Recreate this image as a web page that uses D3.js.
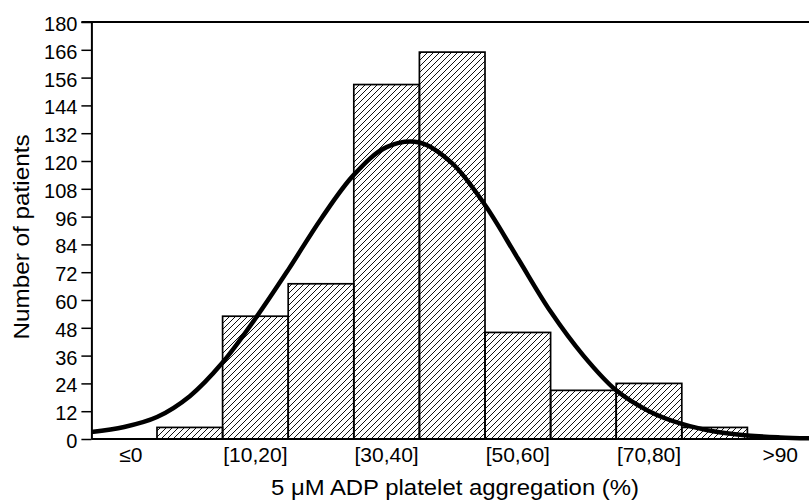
<!DOCTYPE html>
<html>
<head>
<meta charset="utf-8">
<script src="https://cdn.jsdelivr.net/npm/d3@7"></script>
<style>
  html, body { margin: 0; padding: 0; background: #fff; }
  svg { display: block; font-family: "Liberation Sans", Arial, sans-serif; }
</style>
</head>
<body>
<svg id="chart" width="809" height="502"></svg>
<script>
// bins of 10 %, start value of each bar
const binStarts = [0, 10, 20, 30, 40, 50, 60, 70, 80]
const binCounts = [5, 53, 67, 153, 167, 46, 21, 24, 5]

// fitted curve, every 5 %
const curveX = [-10, -5, 0, 5, 10, 15, 20, 25, 30, 35, 40, 45, 50, 55, 60, 65, 70, 75, 80, 85, 90, 95, 100]
const curveY = [3, 5.2, 9.5, 18.5, 33, 52, 73, 95, 114, 126, 128, 119, 101, 78, 55, 36, 21, 12, 6.5, 3.2, 1.5, 0.7, 0.3]

const yTickValues = [0, 12, 24, 36, 48, 60, 72, 84, 96, 108, 120, 132, 144, 156, 168, 180]
const yTickLabels = ['0', '12', '24', '36', '48', '60', '72', '84', '96', '108', '120', '132', '144', '156', '166', '180']

const xLabelCenters = [-4, 15, 35, 55, 75, 95]
const xLabels = ['≤0', '[10,20]', '[30,40]', '[50,60]', '[70,80]', '>90']

const BIN_WIDTH = 10
const W = 809, H = 502

const svg = d3.select('#chart')

const x = d3.scaleLinear().domain([-10, 100]).range([91.4, 813])
const y = d3.scaleLinear().domain([0, 180]).range([439, 22])

// hatch fill
const defs = svg.append('defs')
defs.append('pattern')
  .attr('id', 'hatch')
  .attr('patternUnits', 'userSpaceOnUse')
  .attr('width', 6)
  .attr('height', 6)
  .append('path')
  .attr('d', 'M0,6 L6,0 M-3,3 L3,-3 M3,9 L9,3')
  .attr('stroke', '#111')
  .attr('stroke-width', 1)

// bars
svg.append('g')
  .selectAll('rect')
  .data(binStarts)
  .join('rect')
  .attr('x', d => x(d))
  .attr('width', d => x(d + BIN_WIDTH) - x(d))
  .attr('y', (d, i) => y(binCounts[i]))
  .attr('height', (d, i) => y(0) - y(binCounts[i]))
  .attr('fill', 'url(#hatch)')
  .attr('stroke', '#000')
  .attr('stroke-width', 1.7)

// y axis
const yAxis = svg.append('g')
  .attr('transform', `translate(${x(-10)},0)`)
  .call(d3.axisLeft(y)
    .tickValues(yTickValues)
    .tickFormat((d, i) => yTickLabels[i])
    .tickSize(10)
    .tickSizeOuter(0)
    .tickPadding(4))
yAxis.select('.domain').attr('stroke', '#000').attr('stroke-width', 2)
yAxis.selectAll('.tick line').attr('stroke', '#000').attr('stroke-width', 1.5)
yAxis.selectAll('.tick text')
  .attr('font-family', '"Liberation Sans", Arial, sans-serif')
  .attr('font-size', 20)
  .attr('fill', '#000')
  .attr('dy', null)
  .attr('y', 8.5)

// top frame line and baseline
svg.append('line')
  .attr('x1', x(-10) - 10).attr('x2', W)
  .attr('y1', y(180)).attr('y2', y(180))
  .attr('stroke', '#000').attr('stroke-width', 2)
svg.append('line')
  .attr('x1', x(-10)).attr('x2', W)
  .attr('y1', y(0)).attr('y2', y(0))
  .attr('stroke', '#000').attr('stroke-width', 2.2)

// fitted curve
const line = d3.line()
  .x((d, i) => x(curveX[i]))
  .y(d => y(d))
  .curve(d3.curveCatmullRom.alpha(0.5))
svg.append('path')
  .datum(curveY)
  .attr('d', line)
  .attr('fill', 'none')
  .attr('stroke', '#000')
  .attr('stroke-width', 4.5)

// x category labels
svg.append('g')
  .selectAll('text')
  .data(xLabels)
  .join('text')
  .attr('x', (d, i) => x(xLabelCenters[i]))
  .attr('y', 462)
  .attr('text-anchor', 'middle')
  .attr('font-size', 21)
  .text(d => d)

// axis titles
svg.append('text')
  .attr('x', 455)
  .attr('y', 495)
  .attr('text-anchor', 'middle')
  .attr('font-size', 22)
  .attr('textLength', 368)
  .attr('lengthAdjust', 'spacingAndGlyphs')
  .text('5 μM ADP platelet aggregation (%)')

svg.append('text')
  .attr('transform', 'translate(29,237) rotate(-90)')
  .attr('text-anchor', 'middle')
  .attr('font-size', 22)
  .attr('textLength', 205)
  .attr('lengthAdjust', 'spacingAndGlyphs')
  .text('Number of patients')
</script>
</body>
</html>
